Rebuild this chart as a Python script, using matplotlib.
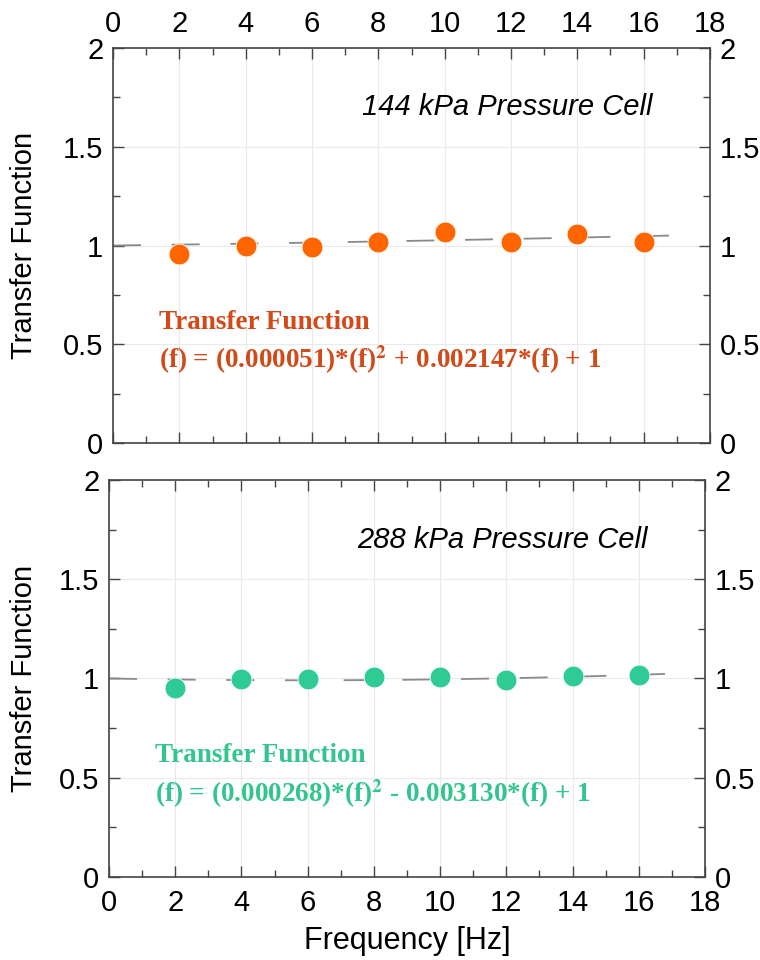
import numpy as np
import matplotlib
matplotlib.use('Agg')
import matplotlib.pyplot as plt
from matplotlib.ticker import MultipleLocator

plt.rcParams['font.family'] = ['Liberation Sans', 'DejaVu Sans']
plt.rcParams['mathtext.fontset'] = 'stix'

# measured transfer function per frequency
freq = [2, 4, 6, 8, 10, 12, 14, 16]
tf_144 = [0.958, 1.0, 0.993, 1.02, 1.07, 1.018, 1.06, 1.02]
tf_288 = [0.953, 0.997, 0.995, 1.007, 1.008, 0.992, 1.012, 1.018]

# quadratic fit coefficients (a*f^2 + b*f + c)
fit_144 = [0.000051, 0.002147, 1]
fit_288 = [0.000268, -0.003130, 1]

orange = '#FF6600'
orange_txt = '#D24A1A'
green = '#2ECC94'
green_txt = '#33C58F'

fig = plt.figure(figsize=(7.6, 9.6), dpi=100)
ax1 = fig.add_axes([0.1487, 0.5385, 0.7855, 0.4115])
ax2 = fig.add_axes([0.1434, 0.0865, 0.7842, 0.4135])


def style_axis(ax, top_labels):
    ax.set_xlim(0, 18)
    ax.set_ylim(0, 2)
    ax.xaxis.set_major_locator(MultipleLocator(2))
    ax.xaxis.set_minor_locator(MultipleLocator(1))
    ax.yaxis.set_major_locator(MultipleLocator(0.5))
    ax.yaxis.set_minor_locator(MultipleLocator(0.25))
    ax.set_yticks([0, 0.5, 1, 1.5, 2])
    ax.set_yticklabels(['0', '0.5', '1', '1.5', '2'])
    ax.grid(True, which='major', color='#EAEAEA', lw=0.8)
    ax.set_axisbelow(True)
    ax.tick_params(which='both', direction='in', top=True, right=True,
                   labelright=True, labelsize=21, colors='#444444',
                   labelcolor='black')
    ax.tick_params(which='major', length=8, width=1.0)
    ax.tick_params(which='minor', length=5, width=1.0)
    ax.tick_params(axis='y', pad=7)
    if top_labels:
        ax.tick_params(axis='x', labeltop=True, labelbottom=False, pad=7)
    else:
        ax.tick_params(axis='x', labeltop=False, labelbottom=True, pad=9)
    for s in ax.spines.values():
        s.set_color('#444444')
        s.set_linewidth(1.2)
    ax.set_ylabel('Transfer Function', fontsize=21)


def draw_panel(ax, y, coef, mcolor, tcolor, title, eq):
    f = np.linspace(0, 17.2, 200)
    ax.plot(f, np.polyval(coef, f), color='#8A8A8A', lw=1.3,
            dashes=(15.5, 17), zorder=2)
    ax.plot(freq, y, 'o', color=mcolor, ms=15, mec='white', mew=0.6, zorder=3)
    ax.text(7.5, 1.70, title, fontsize=21, style='italic', va='center')
    ax.text(1.4, 0.61, 'Transfer Function', fontsize=19.5, fontweight='bold',
            family='Liberation Serif', color=tcolor, va='center')
    ax.text(1.4, 0.42, eq, fontsize=19.5, fontweight='bold',
            family='Liberation Serif', color=tcolor, va='center')


style_axis(ax1, True)
style_axis(ax2, False)
ax1.yaxis.set_label_coords(-0.125, 0.5)
ax2.yaxis.set_label_coords(-0.119, 0.5)

draw_panel(ax1, tf_144, fit_144, orange, orange_txt, '144 kPa Pressure Cell',
           r'(f) = (0.000051)*(f)$^{\mathbf{2}}$ + 0.002147*(f) + 1')
draw_panel(ax2, tf_288, fit_288, green, green_txt, '288 kPa Pressure Cell',
           r'(f) = (0.000268)*(f)$^{\mathbf{2}}$ - 0.003130*(f) + 1')

ax2.set_xlabel('Frequency [Hz]', fontsize=22, labelpad=6)

fig.savefig('out.png', dpi=100)
